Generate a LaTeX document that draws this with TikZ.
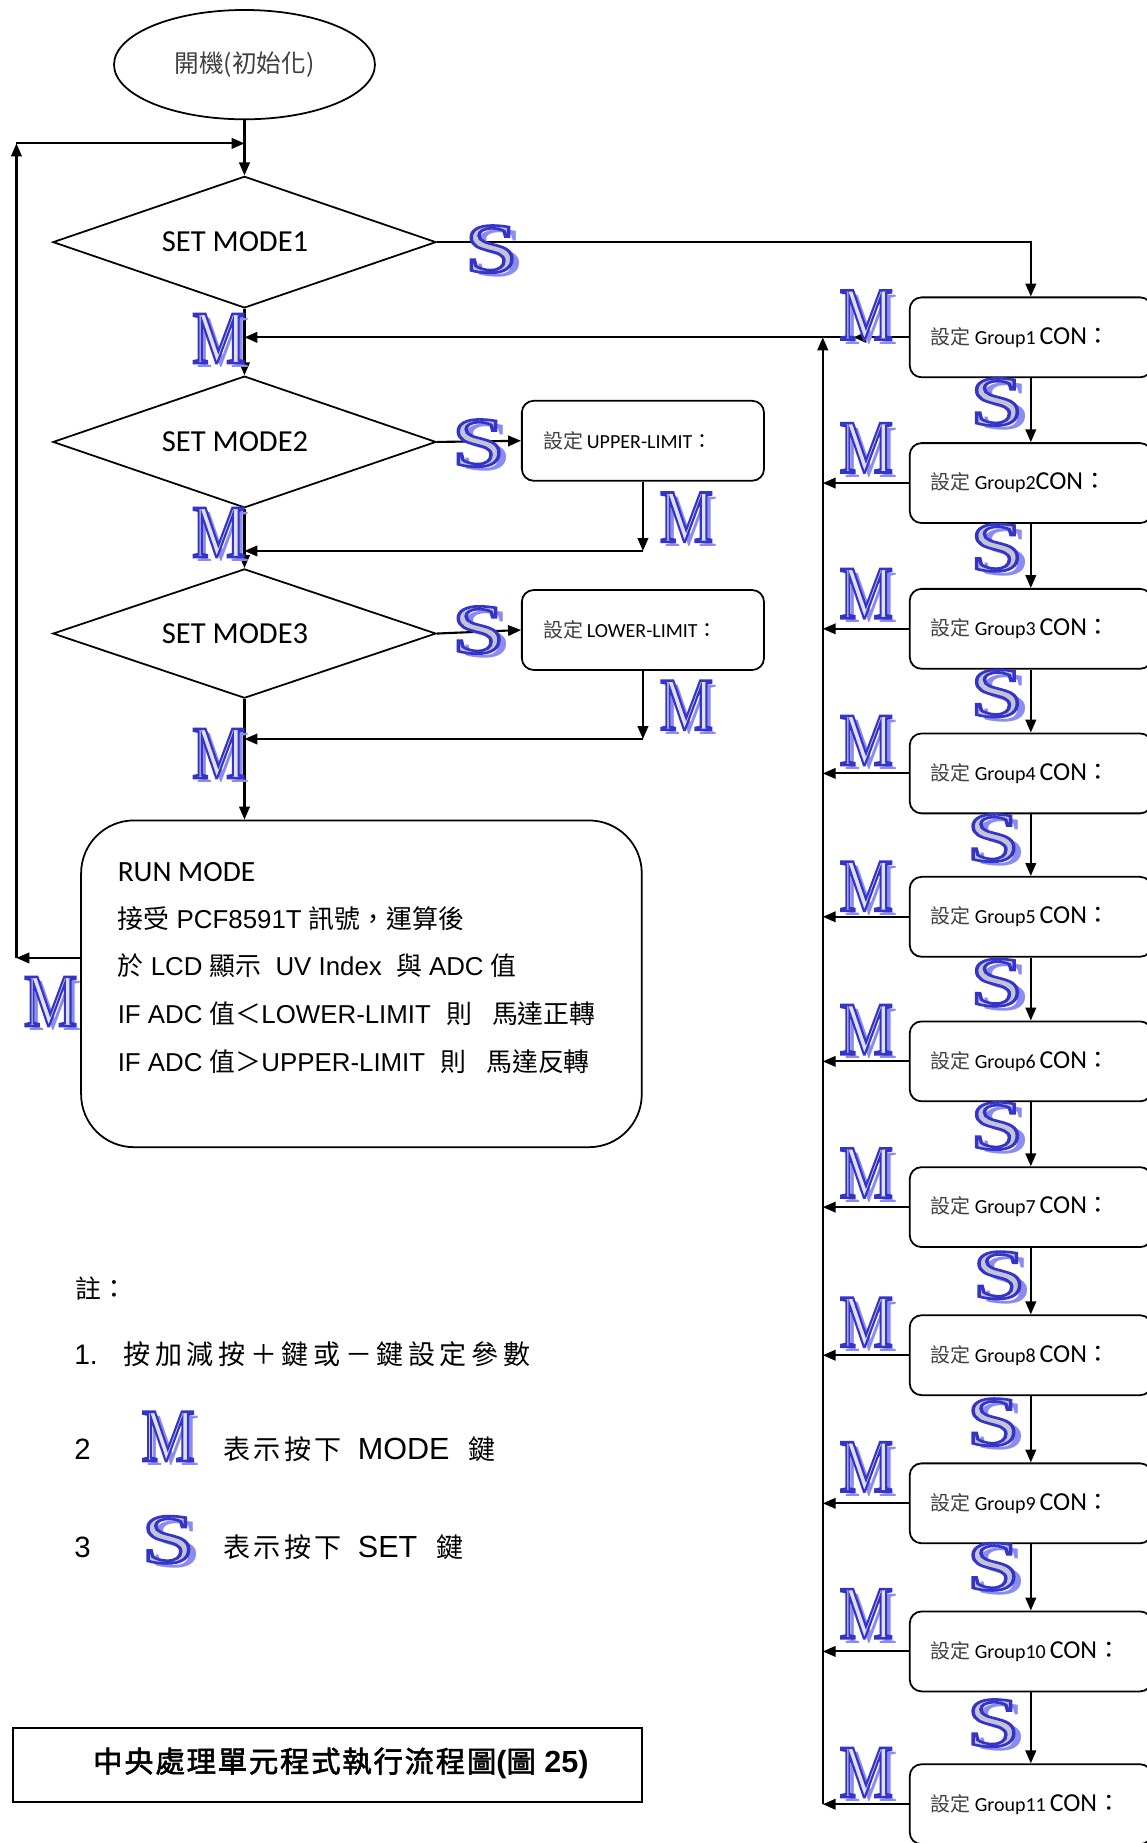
\documentclass[tikz,border=0pt]{standalone}
\usepackage{fontspec}
\usetikzlibrary{shapes.geometric,arrows.meta,calc}

\setmainfont{Liberation Sans}
\newfontfamily\cjk{Noto Sans CJK TC}
\newfontfamily\cjkbold[FakeBold=2]{Noto Sans CJK TC}
\newfontfamily\calibri{Carlito}
\newfontfamily\artfont{Liberation Serif}
\newcommand\fsz[1]{\fontsize{#1}{#1}\selectfont}

\definecolor{artshadow}{HTML}{8C8CF0}
\definecolor{labelgray}{HTML}{404040}

% outlined key letter (fill + blue stroke) with a soft drop shadow
\newcommand\artletter[2]{%
  \makebox[0pt][l]{\hspace*{5pt}\raisebox{-4pt}[0pt][0pt]{\textcolor{artshadow}{#2}}}%
  \special{pdf:literal direct q 2 Tr 2.2 w 0.204 0.204 0.784 RG #1 rg}#2\special{pdf:literal direct Q}}
\newcommand\keyM{\scalebox{0.8}[1]{\artletter{0.88 0.88 0.95}{M}}}
\newcommand\keyS{\scalebox{1.35}[1]{\artletter{0.77 0.77 0.84}{S}}}

% text of one parameter box on the right
\newcommand\grouplabel[1]{{\cjk\fsz{17}\color{labelgray}設定} {\calibri\fsz{17}#1}{\calibri\fsz{22}CON}{\cjk\fsz{20}：}}

\tikzset{
  arr/.style={line width=1.8pt, -{Triangle[length=11pt,width=9pt]}},
  startnode/.style={ellipse, draw, line width=1.5pt, inner sep=0pt,
    minimum width=222pt, minimum height=93pt, font=\cjk\fsz{21}, text=labelgray},
  modebox/.style={diamond, draw, line width=1.5pt, inner sep=0pt, aspect=2.9,
    minimum width=326pt, minimum height=112pt, font=\calibri\fsz{26}},
  setbox/.style={draw, line width=1.5pt, rounded corners=10pt,
    minimum width=206pt, minimum height=68pt, text width=170pt, align=left,
    inner xsep=18pt, inner ysep=0pt},
  runbox/.style={draw, line width=1.5pt, rounded corners=45pt,
    minimum width=477pt, minimum height=278pt},
  runline/.style={anchor=base west, inner sep=0pt, font=\fsz{22}},
  mkey/.style={inner sep=0pt, font=\artfont\fsz{64}},
  skey/.style={inner sep=0pt, font=\artfont\fsz{60}},
  note/.style={anchor=base west, inner sep=0pt},
}

\begin{document}
\begin{tikzpicture}[x=1pt,y=-1pt]
\useasboundingbox (0,0) rectangle (975,1568);

% ---- main chain ----
\node[startnode] (start) at (208,55) {開機(初始化)};
\node[modebox] (d1) at (208,206) {\hspace*{-16pt}SET MODE1};
\node[modebox] (d2) at (208,376) {\hspace*{-16pt}SET MODE2};
\node[modebox, minimum height=110pt] (d3) at (208,539) {\hspace*{-16pt}SET MODE3};

\node[setbox] (up) at (547,375) {{\cjk\fsz{17}\color{labelgray}設定} {\calibri\fsz{17}UPPER-LIMIT}{\cjk\fsz{17}：}};
\node[setbox] (lo) at (547,536) {{\cjk\fsz{17}\color{labelgray}設定} {\calibri\fsz{17}LOWER-LIMIT}{\cjk\fsz{17}：}};

\node[runbox] (run) at (307.5,837) {};
\node[runline, font=\calibri\fsz{25}] (run1) at (100,750) {RUN MODE};
\node[runline] (run2) at (100,790) {{\cjk\fsz{22}接受} PCF8591T {\cjk\fsz{22}訊號，運算後}};
\node[runline] (run3) at (100,830) {{\cjk\fsz{22}於} LCD {\cjk\fsz{22}顯示}\hspace{12pt}UV Index\hspace{12pt}{\cjk\fsz{22}與} ADC {\cjk\fsz{22}值}};
\node[runline] (run4) at (100,871) {IF ADC {\cjk\fsz{22}值＜}LOWER-LIMIT\hspace{13pt}{\cjk\fsz{22}則}\hspace{17pt}{\cjk\fsz{22}馬達正轉}};
\node[runline] (run5) at (100,912) {IF ADC {\cjk\fsz{22}值＞}UPPER-LIMIT\hspace{13pt}{\cjk\fsz{22}則}\hspace{17pt}{\cjk\fsz{22}馬達反轉}};

% ---- parameter boxes ----
\node[setbox] (g1)  at (877,287)  {\grouplabel{Group1\ }};
\node[setbox] (g2)  at (877,411)  {\grouplabel{Group2}};
\node[setbox] (g3)  at (877,535)  {\grouplabel{Group3\ }};
\node[setbox] (g4)  at (877,658)  {\grouplabel{Group4\ }};
\node[setbox] (g5)  at (877,780)  {\grouplabel{Group5\ }};
\node[setbox] (g6)  at (877,903)  {\grouplabel{Group6\ }};
\node[setbox] (g7)  at (877,1027) {\grouplabel{Group7\ }};
\node[setbox] (g8)  at (877,1153) {\grouplabel{Group8\ }};
\node[setbox] (g9)  at (877,1279) {\grouplabel{Group9\ }};
\node[setbox] (g10) at (877,1405) {\grouplabel{Group10\ }};
\node[setbox] (g11) at (877,1535) {\grouplabel{Group11\ }};

% ---- helper coordinates ----
\coordinate (loopTop) at (14,122);
\coordinate (loopBot) at (14,815);
\coordinate (busX) at (700,0);
\coordinate (g1tip) at (726,0);

% ---- connectors ----
\draw[arr] (start.south) -- (d1.north);
\draw[arr] (loopBot -| run.west) -- (loopBot);
\draw[arr] (loopBot) -- (loopTop);
\draw[arr] (loopTop) -- (loopTop -| d1.north);

\draw[arr] (d1.south) -- (d2.north);
\draw[arr] (d2.south) -- (d3.north);
\draw[arr] (d3.south) -- (d3.south |- run.north);

\draw[arr] (d1.east) -| (g1.north);
\draw[arr] (g1.west) -- (g1.west -| g1tip);
\draw[arr] (g1.west -| g1tip) -- (g1.west -| d1.south);
\draw[arr] (g11.west -| busX) -- (g1.west -| busX);
\foreach \i in {2,...,11} \draw[arr] (g\i.west) -- (g\i.west -| busX);
\foreach \a/\b in {1/2,2/3,3/4,4/5,5/6,6/7,7/8,8/9,9/10,10/11}
  \draw[arr] (g\a.south) -- (g\b.north);

\draw[arr] (d2.east) -- (up.west);
\draw[arr] (up.south) -- ++(0,59) coordinate (upTurn);
\draw[arr] (upTurn) -- (upTurn -| d2.south);
\draw[arr] (d3.east) -- (lo.west);
\draw[arr] (lo.south) -- ++(0,58) coordinate (loTurn);
\draw[arr] (loTurn) -- (loTurn -| d3.south);

% ---- key marks ----
\node[skey] (sA) at (418,212) {\keyS};
\node[skey] (sB) at (407,377) {\keyS};
\node[skey] (sC) at (407,536) {\keyS};
\node[mkey] (mA) at (186,288) {\keyM};
\node[mkey] (mB) at (186,453) {\keyM};
\node[mkey] (mC) at (186,641) {\keyM};
\node[mkey] (mUp) at (584,440) {\keyM};
\node[mkey] (mLo) at (584,600) {\keyM};
\node[mkey] (mRun) at (43,852) {\keyM};

\node[mkey] (mg1)  at (737,268)  {\keyM};
\node[mkey] (mg2)  at (737,381)  {\keyM};
\node[mkey] (mg3)  at (737,505)  {\keyM};
\node[mkey] (mg4)  at (737,630)  {\keyM};
\node[mkey] (mg5)  at (737,754)  {\keyM};
\node[mkey] (mg6)  at (737,876)  {\keyM};
\node[mkey] (mg7)  at (737,998)  {\keyM};
\node[mkey] (mg8)  at (737,1125) {\keyM};
\node[mkey] (mg9)  at (737,1248) {\keyM};
\node[mkey] (mg10) at (737,1373) {\keyM};
\node[mkey] (mg11) at (737,1508) {\keyM};

\node[skey] (sg1)  at (848,342)  {\keyS};
\node[skey] (sg2)  at (848,466)  {\keyS};
\node[skey] (sg3)  at (848,590)  {\keyS};
\node[skey] (sg4)  at (845,713)  {\keyS};
\node[skey] (sg5)  at (848,836)  {\keyS};
\node[skey] (sg6)  at (848,958)  {\keyS};
\node[skey] (sg7)  at (850,1085) {\keyS};
\node[skey] (sg8)  at (845,1210) {\keyS};
\node[skey] (sg9)  at (845,1333) {\keyS};
\node[skey] (sg10) at (845,1466) {\keyS};

% ---- notes ----
\node[note, font=\cjk\fsz{22}] (nhead) at (64,1105) {註：};
\node[note, font=\fsz{24}] (n1num) at (63,1161) {1.};
\node[note, font=\cjk\fsz{23}] (n1txt) at (105,1161) {\addfontfeature{LetterSpace=17}按加減按＋鍵或－鍵設定參數};
\node[note, font=\fsz{25}] (n2num) at (63,1242) {2};
\node[mkey] (legM) at (143,1222) {\keyM};
\node[note] (n2txt) at (190,1242) {{\cjk\fsz{23}\addfontfeature{LetterSpace=12}表示按下}\hspace{14pt}{\fsz{26}MODE}\hspace{16pt}{\cjk\fsz{23}鍵}};
\node[note, font=\fsz{25}] (n3num) at (63,1325) {3};
\node[skey] (legS) at (143,1310) {\keyS};
\node[note] (n3txt) at (190,1325) {{\cjk\fsz{23}\addfontfeature{LetterSpace=12}表示按下}\hspace{14pt}{\fsz{26}SET}\hspace{16pt}{\cjk\fsz{23}鍵}};

% ---- caption ----
\node[draw, line width=1.5pt, minimum width=535pt, minimum height=63pt] (titlebox) at (278.5,1501.5) {};
\node[inner sep=0pt] (titletext) at (290,1500) {{\cjkbold\fsz{25}\addfontfeature{LetterSpace=6}中央處理單元程式執行流程圖}{\bfseries\fsz{26}(}{\cjkbold\fsz{25}圖}{\bfseries\fsz{26} 25)}};
\end{tikzpicture}
\end{document}
